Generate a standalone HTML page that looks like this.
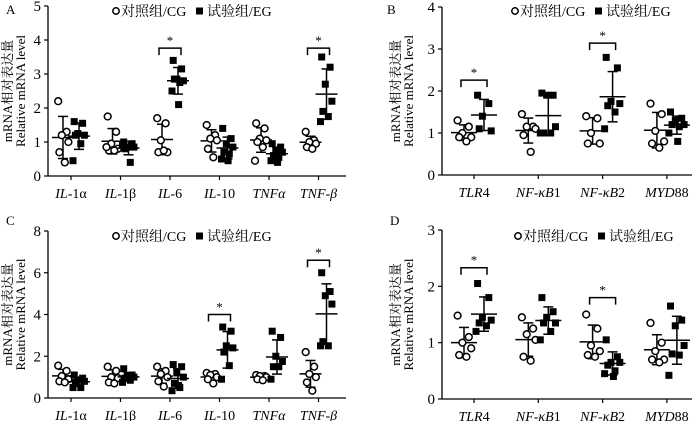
<!DOCTYPE html>
<html><head><meta charset="utf-8">
<style>
html,body{margin:0;padding:0;background:#fff;}
svg{display:block;}
text{font-family:"Liberation Serif","Times New Roman","DejaVu Serif","Noto Serif CJK SC",serif;fill:#000;}
</style></head>
<body>
<svg id="chart" width="700" height="421" viewBox="0 0 700 421" xmlns="http://www.w3.org/2000/svg"></svg>
<script>
// Panel A data
const catsA = ["IL-1α","IL-1β","IL-6","IL-10","TNFα","TNF-β"];
const cgA = [[2.2,1.3,1.2,1.0,0.7,0.4],[1.75,1.3,0.95,0.8,0.75,0.75,0.85],[1.7,1.55,1.05,0.7,0.7,0.75],[1.5,1.2,1.1,1.05,0.8,0.55],[1.55,1.4,1.1,1.05,1.0,0.85,0.45],[1.3,1.05,1.0,0.95,0.85,0.8]];
const egA = [[1.6,1.55,1.25,1.2,1.2,0.95,0.45],[1.0,0.95,0.85,0.85,0.8,0.4,0.9],[3.4,3.15,2.85,2.8,2.85,2.75,2.5,2.1],[1.4,1.1,0.95,0.85,0.7,0.65,0.5,0.45],[0.95,0.85,0.75,0.7,0.6,0.55,0.45,0.4],[3.5,3.2,2.7,2.2,1.9,1.75,1.6]];
const sigA = [[2,3.76],[5,3.76]];
const ticksA = [0,1,2,3,4,5];
// Panel B data
const catsB = ["TLR4","NF-κB1","NF-κB2","MYD88"];
const cgB = [[1.3,1.15,1.0,0.9,0.9,0.8],[1.45,1.15,1.15,1.1,0.95,0.55],[1.4,1.35,1.0,0.75,0.75],[1.7,1.45,1.05,0.8,0.75,0.65]];
const egB = [[1.9,1.7,1.4,1.05,1.1],[1.95,1.9,1.9,1.15,1.0,1.0,1.0],[2.8,2.55,1.75,1.7,1.65,1.5,1.1],[1.5,1.35,1.3,1.2,1.2,1.15,1.0,0.8]];
const sigB = [[0,2.26],[2,3.14]];
const ticksB = [0,1,2,3,4];
// Panel C data
const catsC = ["IL-1α","IL-1β","IL-6","IL-10","TNFα","TNF-β"];
const cgC = [[1.55,1.3,1.05,0.9,0.8,0.75],[1.5,1.3,1.0,0.95,0.75,0.7],[1.5,1.3,1.15,1.0,0.8,0.55],[1.2,1.15,1.1,1.0,0.9,0.7],[1.1,1.05,1.05,1.0,0.9,0.85],[2.2,1.5,1.15,1.0,0.75,0.35]];
const egC = [[1.1,0.95,0.85,0.8,0.75,0.5,0.5],[1.4,1.1,1.05,1.0,0.95,0.85,0.75],[1.6,1.5,1.2,1.0,0.7,0.5,0.35,0.6],[3.4,3.2,2.5,2.4,2.2,1.55,0.9],[3.2,2.9,2.0,1.75,1.5,1.5,0.9],[6.0,5.1,4.9,4.5,2.7,2.5,2.5]];
const sigC = [[3,4.0],[5,6.6]];
const ticksC = [0,2,4,6,8];
// Panel D data
const catsD = ["TLR4","NF-κB1","NF-κB2","MYD88"];
const cgD = [[1.48,1.1,1.0,0.9,0.78,0.75],[1.45,1.25,1.15,1.05,0.75,0.68],[1.5,1.25,0.95,0.85,0.78,0.75],[1.35,1.0,0.85,0.7,0.7,0.65]];
const egD = [[2.05,1.8,1.45,1.4,1.35,1.3,1.2],[1.8,1.55,1.45,1.35,1.35,1.2,1.05],[1.05,0.75,0.65,0.65,0.6,0.5,0.45,0.4],[1.65,1.4,1.3,0.95,0.8,0.78,0.42]];
const sigD = [[0,2.33],[2,1.8]];
const ticksD = [0,1,2,3];

const NS="http://www.w3.org/2000/svg";
const svg=document.getElementById('chart');
function mk(tag,attrs,parent){const e=document.createElementNS(NS,tag);for(const k in attrs)e.setAttribute(k,attrs[k]);(parent||svg).appendChild(e);return e;}
const JIT=[-0.8,0.6,-0.2,0.9,-0.6,0.3,-1,0.1];
function stats(v){const m=v.reduce((a,b)=>a+b,0)/v.length;const sd=Math.sqrt(v.reduce((a,b)=>a+(b-m)*(b-m),0)/(v.length-1));return [m,sd];}

function panel(o){
  const g=mk('g',{});
  
  
  const ymax=o.ticks[o.ticks.length-1];
  const Y=v=>o.y0-(v/ymax)*(o.y0-o.y1);
  const X=i=>o.c0+i*o.step;
  const lt=mk('text',{x:o.lx,y:o.ly,'font-size':13},g);lt.textContent=o.letter;
  
  
  const ax=mk('g',{},g);
  
  
  mk('line',{x1:o.ax,y1:o.y1,x2:o.ax,y2:o.y0,stroke:'#000','stroke-width':1.3},ax);
  o.ticks.forEach(t=>{mk('line',{x1:o.ax-4,y1:Y(t),x2:o.ax,y2:Y(t),stroke:'#000','stroke-width':1.2},ax);
    const tx=mk('text',{x:o.ax-7,y:Y(t)+5,'font-size':15,'text-anchor':'end'},ax);tx.textContent=t;
    
    });
  const xa=mk('g',{},g);
  
  
  mk('line',{x1:o.ax,y1:o.y0,x2:o.xend,y2:o.y0,stroke:'#000','stroke-width':1.3},xa);
  o.cats.forEach((c,i)=>{mk('line',{x1:X(i),y1:o.y0,x2:X(i),y2:o.y0+4,stroke:'#000','stroke-width':1.2},xa);
    const tx=mk('text',{x:X(i),y:o.y0+22,'font-size':14,'text-anchor':'middle'},xa);
    
    
    let m=c.startsWith('TNF')?null:c.match(/^(.*?)([0-9αβ]+)$/);
    const a=mk('tspan',{'font-style':'italic'},tx);a.textContent=m?m[1]:c;
    if(m){const b=mk('tspan',{},tx);b.textContent=m[2];}
  });
  const t1=mk('text',{transform:`translate(${o.tx},${(o.y0+o.y1)/2}) rotate(-90)`,'font-size':13,'text-anchor':'middle'},g);t1.textContent='mRNA相对表达量';
  
  
  const t2=mk('text',{transform:`translate(${o.tx+13},${(o.y0+o.y1)/2}) rotate(-90)`,'font-size':13,'text-anchor':'middle'},g);t2.textContent='Relative mRNA level';
  
  
  [[o.cg,-o.off,'cg'],[o.eg,o.off,'eg']].forEach(([ser,dx,kind])=>{
    ser.forEach((vals,i)=>{
      const cx=X(i)+dx;
      const [m,sd]=stats(vals);
      const eb=mk('g',{},g);
      
      
      mk('line',{x1:cx,y1:Y(m+sd),x2:cx,y2:Y(Math.max(0,m-sd)),stroke:'#000','stroke-width':1.5},eb);
      mk('line',{x1:cx-5,y1:Y(m+sd),x2:cx+5,y2:Y(m+sd),stroke:'#000','stroke-width':1.5},eb);
      mk('line',{x1:cx-5,y1:Y(Math.max(0,m-sd)),x2:cx+5,y2:Y(Math.max(0,m-sd)),stroke:'#000','stroke-width':1.5},eb);
      mk('line',{x1:cx-o.half,y1:Y(m),x2:cx+o.half,y2:Y(m),stroke:'#000','stroke-width':1.5},eb);
      vals.forEach((v,j)=>{
        const px=cx+JIT[j%JIT.length]*o.jit, py=Y(v);
        let e;
        if(kind==='cg') e=mk('circle',{cx:px,cy:py,r:3.4,fill:'#fff',stroke:'#000','stroke-width':1.5},g);
        else e=mk('rect',{x:px-3.5,y:py-3.5,width:7,height:7,fill:'#000'},g);
        
        
      });
    });
  });
  o.sig.forEach(([i,v])=>{
    const s=mk('g',{},g);
    
    
    const y=Y(v),a=X(i)-o.off-3,b=X(i)+o.off+3;
    mk('path',{d:`M${a},${y+7}V${y}H${b}V${y+7}`,fill:'none',stroke:'#000','stroke-width':1.5},s);
    const st=mk('text',{x:(a+b)/2,y:y-3,'font-size':13,'text-anchor':'middle'},s);st.textContent='*';
  });
  const lg=mk('g',{},g);
  
  
  mk('circle',{cx:o.legx,cy:o.legy-4,r:3.2,fill:'#fff',stroke:'#000','stroke-width':1.5},lg);
  const l1=mk('text',{x:o.legx+5,y:o.legy+1,'font-size':14},lg);l1.textContent='对照组/CG';
  mk('rect',{x:o.legx+80,y:o.legy-7.5,width:7,height:7,fill:'#000'},lg);
  const l2=mk('text',{x:o.legx+91,y:o.legy+1,'font-size':14},lg);l2.textContent='试验组/EG';
}
panel({letter:'A',lx:6,ly:14,cats:catsA,cg:cgA,eg:egA,sig:sigA,ticks:ticksA,ax:48,xend:346,y0:176,y1:6,c0:71,step:49.5,off:8,jit:6,half:11,tx:12,legx:116,legy:15});
panel({letter:'B',lx:387,ly:14,cats:catsB,cg:cgB,eg:egB,sig:sigB,ticks:ticksB,ax:442,xend:692,y0:175,y1:7,c0:474,step:64.3,off:10,jit:8,half:13,tx:400,legx:515,legy:15});
panel({letter:'C',lx:6,ly:225,cats:catsC,cg:cgC,eg:egC,sig:sigC,ticks:ticksC,ax:48,xend:346,y0:398,y1:231,c0:71,step:49.5,off:8,jit:6,half:11,tx:12,legx:116,legy:240});
panel({letter:'D',lx:390,ly:225,cats:catsD,cg:cgD,eg:egD,sig:sigD,ticks:ticksD,ax:442,xend:692,y0:399,y1:230,c0:474,step:64.3,off:10,jit:8,half:13,tx:400,legx:518,legy:240});
</script>
</body></html>
